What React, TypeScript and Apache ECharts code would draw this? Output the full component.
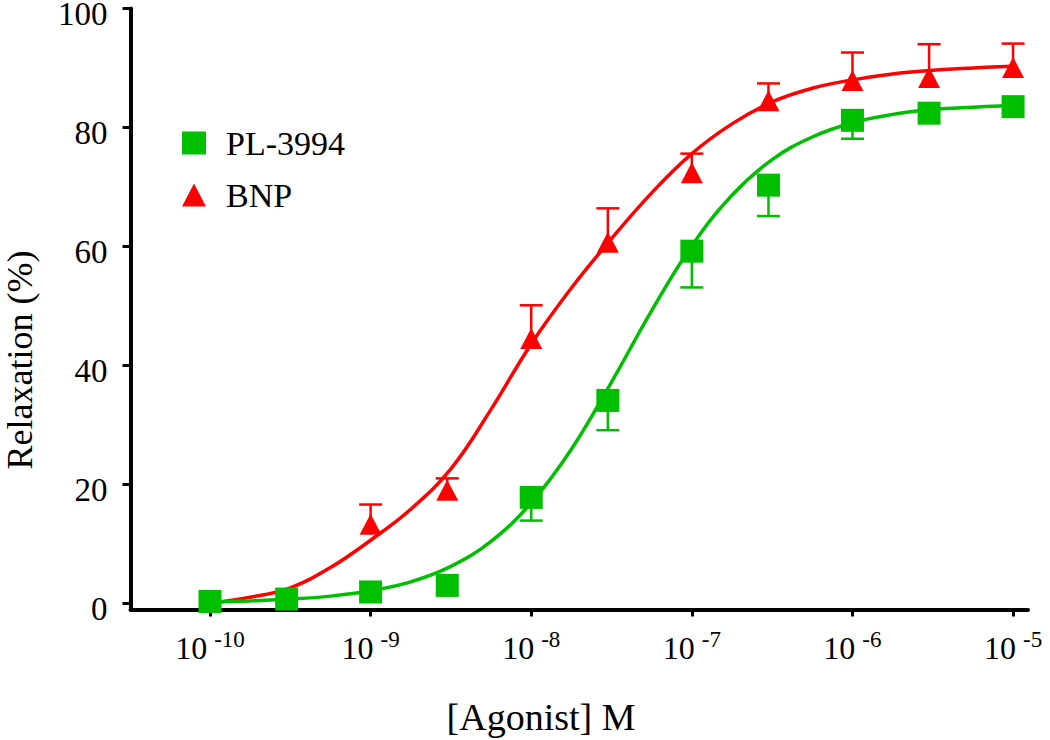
import React, { useEffect, useRef } from "react";
import * as echarts from "echarts";

// Agonist concentrations (M)
const concentrations = [1e-10, 3e-10, 1e-9, 3e-9, 1e-8, 3e-8, 1e-7, 3e-7, 1e-6, 3e-6, 1e-5];

// PL-3994 relaxation (%) mean and SEM (error bars drawn downward)
const pl3994Mean = [0.3, 0.7, 1.9, 3.0, 17.8, 34.1, 59.2, 70.3, 81.2, 82.4, 83.5];
const pl3994Sem = [null, null, null, null, 3.9, 5.0, 6.1, 5.2, 3.1, null, null];

// BNP relaxation (%) mean and SEM (error bars drawn upward)
const bnpMean = [null, null, 13.3, 19.0, 44.5, 60.7, 72.4, 84.5, 87.9, 88.4, 90.1];
const bnpSem = [null, null, 3.3, 2.0, 5.6, 5.7, 3.2, 2.9, 4.7, 5.6, 4.0];

// Fitted curves (log10 concentration vs %)
const curveLogConc = [-10, -9.75, -9.5, -9.25, -9, -8.75, -8.5, -8.25, -8, -7.75, -7.5, -7.25, -7, -6.75, -6.5, -6.25, -6, -5.75, -5.5, -5.25, -5];
const pl3994Fit = [0.2, 0.4, 0.7, 1.2, 2.1, 3.6, 6.2, 10.4, 16.9, 25.9, 37.2, 49.2, 60.1, 68.6, 74.6, 78.4, 80.8, 82.2, 83.0, 83.4, 83.7];
const bnpFit = [0.0, 1.0, 2.6, 6.0, 10.6, 15.8, 22.6, 32.6, 43.6, 53.0, 61.3, 69.0, 75.6, 80.6, 84.3, 86.6, 88.0, 89.0, 89.6, 90.0, 90.3];

// Axis ticks
const xTickExponents = [-10, -9, -8, -7, -6, -5];
const yTicks = [0, 20, 40, 60, 80, 100];

const GREEN = "#00BE00";
const RED = "#FF0000";
const FONT = "Liberation Serif";

function errorBarSeries(name: string, means: (number | null)[], sems: (number | null)[], dir: number, color: string) {
  const data: number[][] = [];
  concentrations.forEach((c, i) => {
    const m = means[i];
    const s = sems[i];
    if (m != null && s != null) data.push([Math.log10(c), m, m + dir * s]);
  });
  return {
    type: "custom",
    name,
    data,
    z: 3,
    encode: { x: 0, y: [1, 2] },
    renderItem: (params: any, api: any) => {
      const x = api.value(0);
      const p0 = api.coord([x, api.value(1)]);
      const p1 = api.coord([x, api.value(2)]);
      const style = { stroke: color, lineWidth: 2.5 };
      return {
        type: "group",
        children: [
          { type: "line", shape: { x1: p0[0], y1: p0[1], x2: p1[0], y2: p1[1] }, style },
          { type: "line", shape: { x1: p1[0] - 11.5, y1: p1[1], x2: p1[0] + 11.5, y2: p1[1] }, style },
        ],
      };
    },
  };
}

export default function App() {
  const ref = useRef<HTMLDivElement>(null);

  useEffect(() => {
    if (!ref.current) return;
    const chart = echarts.init(ref.current, null, { renderer: "svg" });

    const pts = (means: (number | null)[]) =>
      concentrations
        .map((c, i) => (means[i] == null ? null : [Math.log10(c), means[i] as number]))
        .filter((d) => d != null);

    const option: any = {
      animation: false,
      backgroundColor: "#ffffff",
      grid: { left: 130.5, right: 22, top: 8.5, bottom: 130.5, containLabel: false, outerBoundsMode: "none" },
      xAxis: {
        type: "value",
        min: -10.495,
        max: -4.907,
        splitLine: { show: false },
        axisLine: { onZero: false, lineStyle: { color: "#000", width: 4 } },
        axisTick: { show: true, length: 7, inside: false, customValues: xTickExponents, lineStyle: { color: "#000", width: 3 } },
        axisLabel: {
          customValues: xTickExponents,
          margin: 18,
          fontSize: 32,
          fontFamily: FONT,
          color: "#000",
          formatter: (v: number) => `{a|10}{b|${v}}`,
          rich: {
            a: { fontSize: 32, fontFamily: FONT, color: "#000", verticalAlign: "bottom" },
            b: { fontSize: 23, fontFamily: FONT, color: "#000", verticalAlign: "bottom", padding: [0, 0, 13, 7] },
          },
        },
      },
      yAxis: {
        type: "value",
        min: -1.05,
        max: 100,
        splitLine: { show: false },
        axisLine: { onZero: false, lineStyle: { color: "#000", width: 4 } },
        axisTick: { show: true, length: 8, customValues: yTicks, lineStyle: { color: "#000", width: 3 } },
        axisLabel: {
          customValues: yTicks,
          margin: 23,
          fontSize: 33,
          fontFamily: FONT,
          color: "#000",
          verticalAlign: "top",
          lineHeight: 11,
        },
      },
      legend: {
        orient: "vertical",
        left: 182,
        top: 126,
        padding: 0,
        itemWidth: 24,
        itemHeight: 23,
        itemGap: 18,
        data: [
          { name: "PL-3994", icon: "rect" },
          { name: "BNP", icon: "triangle" },
        ],
        textStyle: { fontSize: 34, fontFamily: FONT, color: "#000", padding: [0, 0, 0, 15] },
      },
      graphic: [
        {
          type: "text",
          x: 20,
          y: 360,
          rotation: Math.PI / 2,
          style: { text: "Relaxation (%)", fontSize: 36, fontFamily: FONT, fill: "#000", textAlign: "center", textVerticalAlign: "middle" },
        },
        {
          type: "text",
          x: 541,
          y: 717,
          style: { text: "[Agonist] M", fontSize: 38, fontFamily: FONT, fill: "#000", textAlign: "center", textVerticalAlign: "middle" },
        },
      ],
      series: [
        {
          type: "line",
          name: "BNP fit",
          data: curveLogConc.map((x, i) => [x, bnpFit[i]]),
          smooth: 0.4,
          showSymbol: false,
          lineStyle: { color: RED, width: 3.5 },
          itemStyle: { color: RED },
          z: 2,
        },
        {
          type: "line",
          name: "PL-3994 fit",
          data: curveLogConc.map((x, i) => [x, pl3994Fit[i]]),
          smooth: 0.4,
          showSymbol: false,
          lineStyle: { color: GREEN, width: 3.5 },
          itemStyle: { color: GREEN },
          z: 2,
        },
        errorBarSeries("BNP err", bnpMean, bnpSem, 1, RED),
        errorBarSeries("PL-3994 err", pl3994Mean, pl3994Sem, -1, GREEN),
        {
          type: "scatter",
          name: "BNP",
          data: pts(bnpMean),
          symbol: "triangle",
          symbolSize: [22, 21],
          itemStyle: { color: RED, opacity: 1 },
          z: 4,
        },
        {
          type: "scatter",
          name: "PL-3994",
          data: pts(pl3994Mean),
          symbol: "rect",
          symbolSize: 23,
          itemStyle: { color: GREEN, opacity: 1 },
          z: 5,
        },
      ],
    };

    chart.setOption(option);
    return () => chart.dispose();
  }, []);

  return <div ref={ref} style={{ position: "fixed", left: 0, top: 0, width: 1050, height: 740, background: "#fff" }} />;
}
